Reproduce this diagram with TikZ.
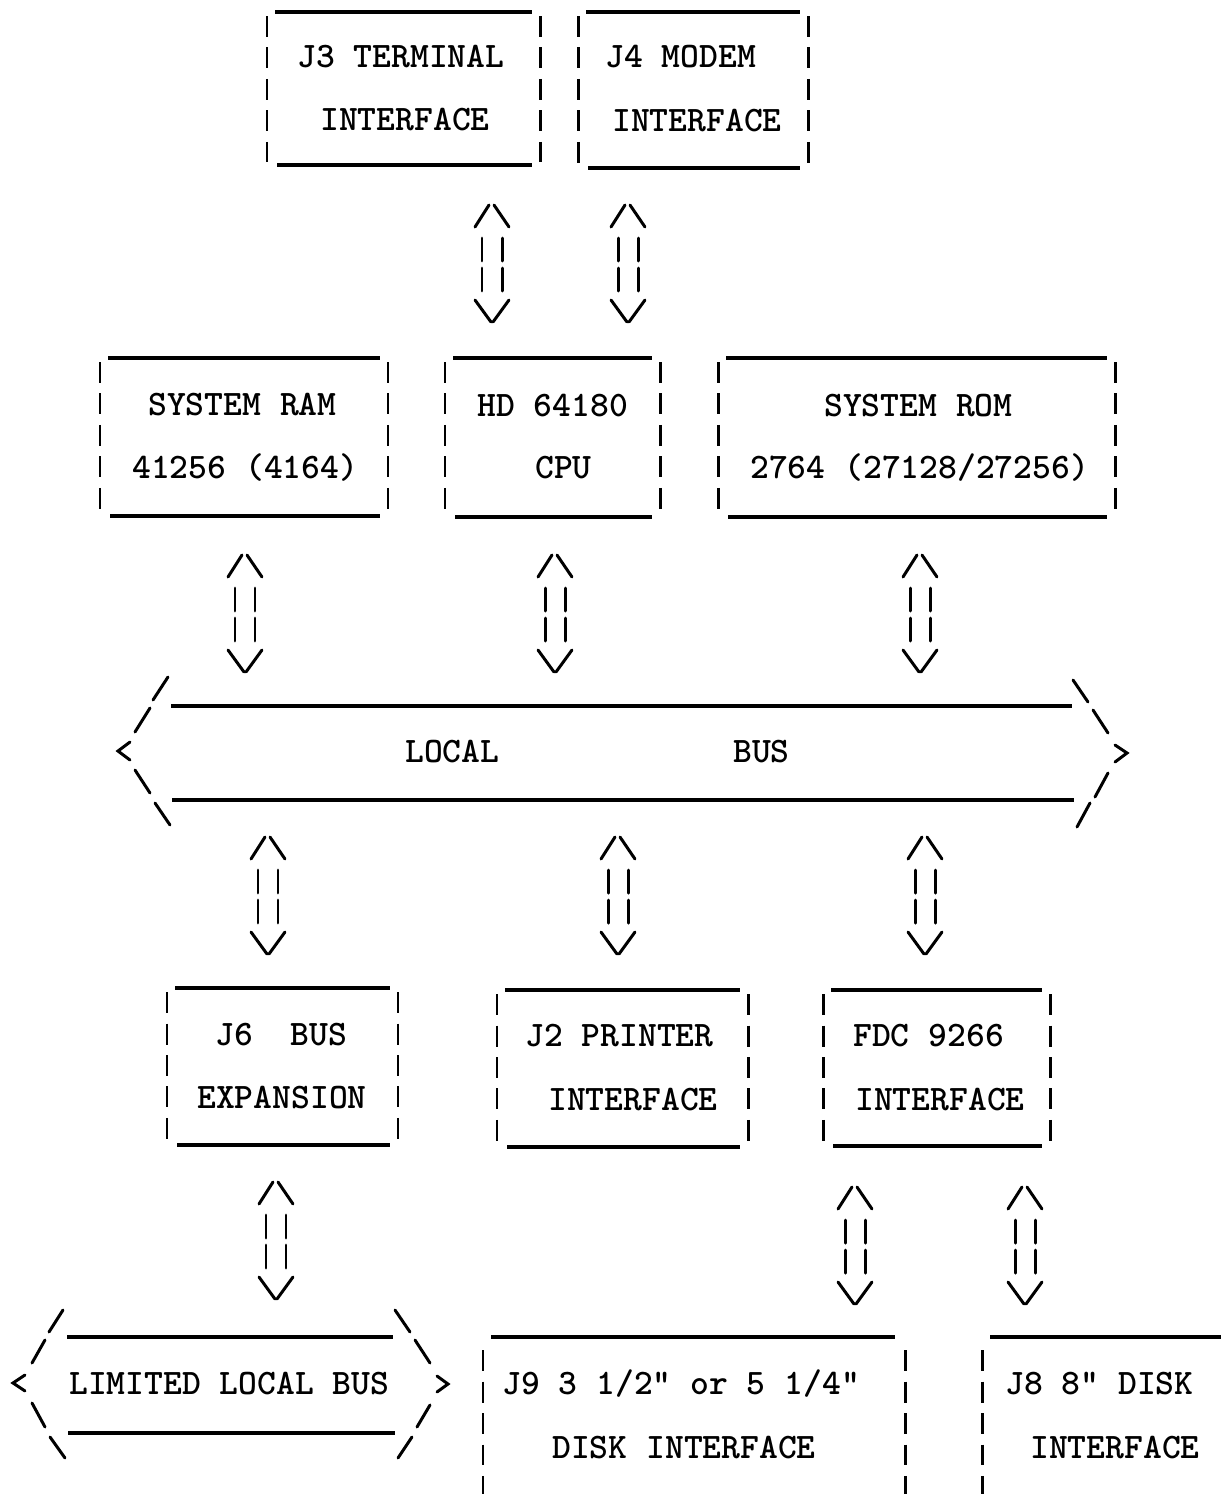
\documentclass[tikz,border=0pt]{standalone}
\usepackage{tikz}

\tikzset{
  glyph/.style={line width=1.7pt, line cap=round},
  rule/.style={line width=1.9pt},
  side/.style={line width=1.7pt, dash pattern=on 0.42cm off 0.21cm},
  label/.style={anchor=west, inner sep=0pt, text height=12.4pt, text depth=0pt,
    font=\fontsize{20.4}{24}\selectfont\ttfamily\bfseries}
}

% box with solid top/bottom and dashed sides
\newcommand{\ttybox}[4]{%
  \draw[rule] ({#1+8},#3) -- ({#2-8},#3);
  \draw[rule] ({#1+10},#4) -- ({#2-8},#4);
  \draw[side] (#1,{#3+4}) -- (#1,{#4-3});
  \draw[side] (#2,{#3+4}) -- (#2,{#4-3});
}

% up/down double arrow
\newcommand{\updown}[2]{%
  \draw[glyph] ({#1-17},{#2+22}) -- ({#1-3},#2);
  \draw[glyph] ({#1+2},#2) -- ({#1+17},{#2+22});
  \draw[glyph] ({#1-10},{#2+33}) -- ({#1-10},{#2+56});
  \draw[glyph] ({#1-10},{#2+63}) -- ({#1-10},{#2+86});
  \draw[glyph] ({#1+10},{#2+33}) -- ({#1+10},{#2+56});
  \draw[glyph] ({#1+10},{#2+63}) -- ({#1+10},{#2+86});
  \draw[glyph] ({#1-17},{#2+95}) -- ({#1-1},{#2+117});
  \draw[glyph] ({#1+1},{#2+117}) -- ({#1+17},{#2+95});
}

\begin{document}
\begin{tikzpicture}[x=0.02cm, y=-0.02cm]
\useasboundingbox (0,0) rectangle (1221,1494);

% boxes
\ttybox{267}{540}{12}{165}
\ttybox{578}{808}{12}{168}
\ttybox{100}{388}{358}{516}
\ttybox{445}{660}{358}{517}
\ttybox{718}{1115}{358}{517}
\ttybox{167}{398}{988}{1145}
\ttybox{497}{748}{990}{1147}
\ttybox{823}{1050}{990}{1146}

% open boxes at the bottom edge
\draw[rule] (491,1337) -- (895,1337);
\draw[side] (483,1350) -- (483,1494);
\draw[side] (905,1350) -- (905,1494);
\draw[rule] (990,1337) -- (1221,1337);
\draw[side] (982,1350) -- (982,1494);

% arrows
\updown{492}{205}
\updown{628}{205}
\updown{245}{555}
\updown{555}{555}
\updown{920}{555}
\updown{268}{837}
\updown{618}{837}
\updown{925}{837}
\updown{276}{1182}
\updown{855}{1187}
\updown{1025}{1187}

% local bus
\draw[rule] (171,706) -- (1072,706);
\draw[rule] (172,800) -- (1074,800);
\draw[glyph] (168,677) -- (153,700);
\draw[glyph] (150,708) -- (135,732);
\draw[glyph] (130,742) -- (118,751) -- (130,760);
\draw[glyph] (135,770) -- (150,793);
\draw[glyph] (155,803) -- (170,825);
\draw[glyph] (1073,680) -- (1088,702);
\draw[glyph] (1093,710) -- (1108,733);
\draw[glyph] (1115,745) -- (1127,753) -- (1115,762);
\draw[glyph] (1108,773) -- (1095,797);
\draw[glyph] (1090,803) -- (1077,827);

% limited local bus
\draw[rule] (67,1337) -- (393,1337);
\draw[rule] (68,1433) -- (395,1433);
\draw[glyph] (63,1310) -- (49,1332);
\draw[glyph] (45,1340) -- (32,1363);
\draw[glyph] (25,1375) -- (13,1383) -- (25,1391);
\draw[glyph] (32,1403) -- (45,1427);
\draw[glyph] (50,1437) -- (65,1458);
\draw[glyph] (395,1310) -- (410,1332);
\draw[glyph] (415,1340) -- (430,1363);
\draw[glyph] (437,1376) -- (448,1384) -- (437,1392);
\draw[glyph] (430,1405) -- (417,1427);
\draw[glyph] (412,1437) -- (398,1458);

% labels
\node[label] (j3a) at (297,57) {J3 TERMINAL};
\node[label] (j3b) at (320,120) {INTERFACE};
\node[label] (j4a) at (605,57) {J4 MODEM};
\node[label] (j4b) at (612,121) {INTERFACE};
\node[label] (rama) at (148,405) {SYSTEM RAM};
\node[label] (ramb) at (132,468) {41256 (4164)};
\node[label] (cpua) at (477,406) {HD 64180};
\node[label] (cpub) at (535,468) {CPU};
\node[label] (roma) at (824,406) {SYSTEM ROM};
\node[label] (romb) at (750,468) {2764 (27128/27256)};
\node[label] (lbusa) at (405,752) {LOCAL};
\node[label] (lbusb) at (733,752) {BUS};
\node[label] (j6a) at (215,1035) {J6\ \ BUS};
\node[label] (j6b) at (197,1098) {EXPANSION};
\node[label] (j2a) at (525,1036) {J2 PRINTER};
\node[label] (j2b) at (548,1100) {INTERFACE};
\node[label] (fdca) at (853,1036) {FDC 9266};
\node[label] (fdcb) at (855,1100) {INTERFACE};
\node[label] (llbus) at (69,1384) {LIMITED LOCAL BUS};
\node[label] (j9a) at (502,1384) {J9 3 1/2" or 5 1/4"};
\node[label] (j9b) at (552,1448) {DISK INTERFACE};
\node[label] (j8a) at (1005,1384) {J8 8" DISK};
\node[label] (j8b) at (1030,1448) {INTERFACE};

\end{tikzpicture}
\end{document}
